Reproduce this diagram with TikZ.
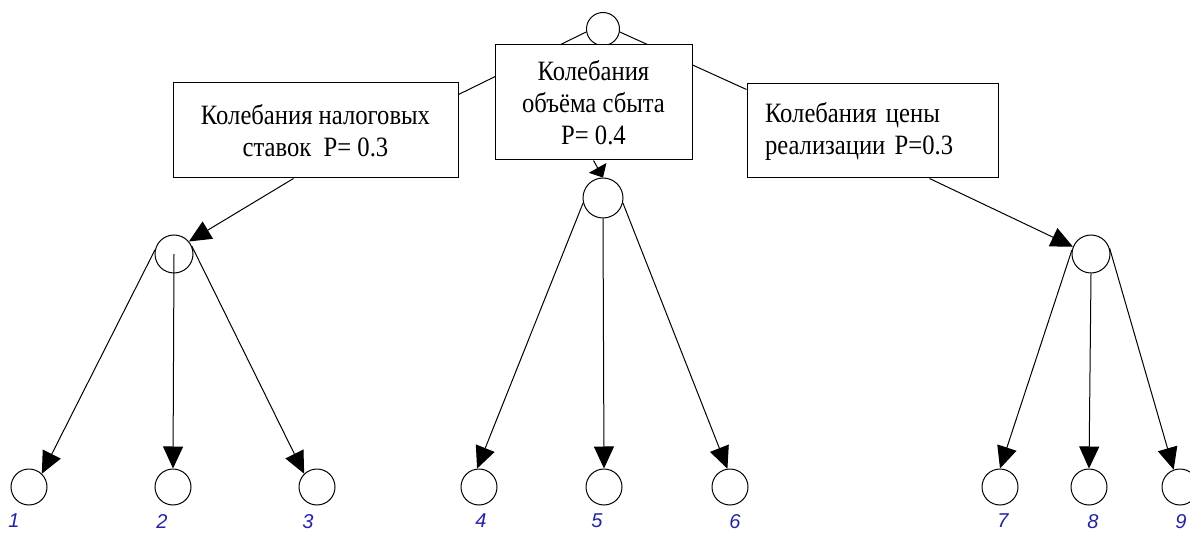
\documentclass[tikz,border=0pt]{standalone}
\usepackage{fontspec}
\setmainfont{Liberation Serif}[FakeStretch=0.88]
\newfontfamily\labfont{Liberation Sans}
\usetikzlibrary{arrows.meta}
\pgfdeclarelayer{background}
\pgfsetlayers{background,main}
\definecolor{labblue}{RGB}{35,35,160}
\tikzset{
  box/.style={draw, line width=1pt, fill=white, inner sep=0pt, font=\fontsize{28}{32}\selectfont},
  circ/.style={draw, circle, line width=1pt, inner sep=0pt, minimum size=#1},
  circ/.default=36pt,
  conn/.style={line width=1pt},
  arr/.style={line width=1pt, -{Triangle[length=22pt,width=20pt]}},
  num/.style={text=labblue, font=\labfont\itshape\fontsize{20}{20}\selectfont, inner sep=0pt, anchor=north},
}
\begin{document}
\begin{tikzpicture}[x=1pt,y=-1pt]
\useasboundingbox (0,0) rectangle (1190,534);
% top circle
\node[circ=33pt] (top) at (603,29) {};
% boxes
\node[box, minimum width=285pt, minimum height=95pt, align=center] (L) at (315.5,130.5)
  {Колебания налоговых\\ставок\ \ P= 0.3};
\node[box, minimum width=197pt, minimum height=115pt, align=center] (M) at (593.5,102.5)
  {Колебания\\объёма сбыта\\P= 0.4};
\node[box, minimum width=251pt, minimum height=94pt, align=left, text width=215pt] (R) at (872.5,131)
  {Колебания цены\\реализации P=0.3};
% middle circles
\node[circ=38pt] (ml) at (174,254) {};
\node[circ=40pt] (mm) at (603,198) {};
\node[circ=38pt] (mr) at (1091,254) {};
% bottom circles
\foreach \n/\x in {1/29,2/173,3/317,4/479,5/604,6/730,7/1000,8/1089,9/1180}{
  \node[circ=36pt] (b\n) at (\x,487) {};
}
% labels
\node[num] (l1) at (14,514) {1};
\node[num] (l2) at (162,514) {2};
\node[num] (l3) at (308,514) {3};
\node[num] (l4) at (481,514) {4};
\node[num] (l5) at (597,514) {5};
\node[num] (l6) at (735,514) {6};
\node[num] (l7) at (1003,514) {7};
\node[num] (l8) at (1093,514) {8};
\node[num] (l9) at (1181,514) {9};
% connectors behind boxes
\begin{pgfonlayer}{background}
\draw[conn] (top.190) -- ([yshift=-12pt]L.north east);
\draw[conn] (top.350) -- ([yshift=-6pt]R.north west);
\end{pgfonlayer}
% arrows from boxes
\draw[line width=1pt, -{Triangle[length=11pt,width=20pt]}] (M.south) -- (mm.north);
\draw[arr] ([xshift=-22pt]L.south) -- (ml.40);
\draw[arr] ([xshift=57pt]R.south) -- (mr.158);
% arrows to leaves
\draw[arr] (ml.168) -- (b1.46);
\draw[arr] (ml.center) -- (b2.north);
\draw[arr] (ml.24) -- (b3.134);
\draw[arr] (mm.194) -- (b4.96);
\draw[arr] (mm.south) -- (b5.north);
\draw[arr] (mm.346) -- (b6.98);
\draw[arr] (mr.168) -- (b7.north);
\draw[arr] (mr.south) -- (b8.north);
\draw[arr] (mr.18) -- (b9.110);
\end{tikzpicture}
\end{document}
